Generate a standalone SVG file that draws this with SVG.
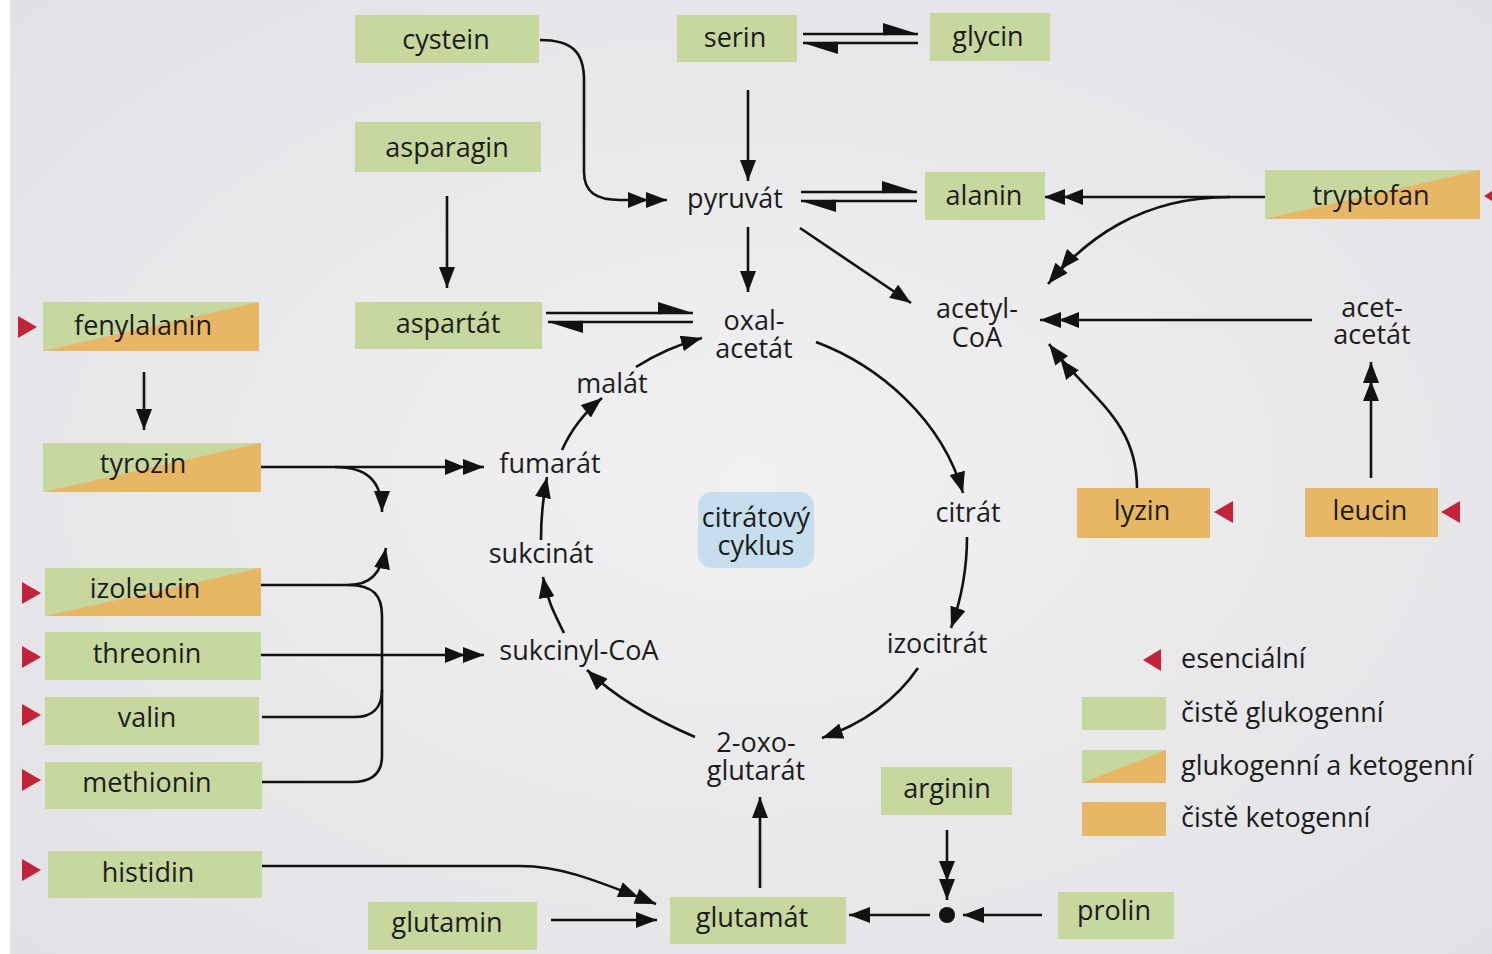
<svg xmlns="http://www.w3.org/2000/svg" width="1492" height="954" viewBox="0 0 1492 954">
<defs>
<style>
.t{font-family:"Open Sans","Noto Sans","Liberation Sans",sans-serif;font-size:27px;fill:#1c1c1c;text-anchor:middle}
.ts{font-family:"Open Sans","Noto Sans","Liberation Sans",sans-serif;font-size:27px;fill:#1c1c1c;text-anchor:start}
.g{fill:#c7d89f}
.o{fill:#e8b765}
.ess{fill:#c2233a}
.c{fill:none;stroke:#121212;stroke-width:2.6}
</style>
<radialGradient id="bg" cx="0.5" cy="0.5" r="0.75">
<stop offset="0" stop-color="#f1f0f2"/>
<stop offset="1" stop-color="#e1e0e4"/>
</radialGradient>
<marker id="a1" markerUnits="userSpaceOnUse" markerWidth="22" markerHeight="16" refX="21" refY="8" orient="auto">
<path d="M0,0 L21,8 L0,16 z" fill="#121212"/>
</marker>
<marker id="a2" markerUnits="userSpaceOnUse" markerWidth="40" markerHeight="16" refX="39" refY="8" orient="auto">
<path d="M0,0 L20,8 L0,16 z M18,0 L39,8 L18,16 z" fill="#121212"/>
</marker>
<marker id="hp" markerUnits="userSpaceOnUse" markerWidth="36" markerHeight="14" refX="35" refY="11" orient="auto">
<path d="M0,0 L35,11 L0,12.3 z" fill="#121212"/>
</marker>
</defs>
<rect x="0" y="0" width="1492" height="954" fill="#ffffff"/>
<rect x="10" y="0" width="1482" height="954" fill="url(#bg)"/>

<g id="connectors">
<path class="c" d="M540,40 C572,40 584,52 584,80 L584,172 C584,192 596,200 620,200 L667,200" marker-end="url(#a2)"/>
<path class="c" d="M748,90 L748,181" marker-end="url(#a1)"/>
<path class="c" d="M748,227 L748,292" marker-end="url(#a1)"/>
<path class="c" d="M803,34 L918,34" marker-end="url(#hp)"/>
<path class="c" d="M918,43 L803,43" marker-end="url(#hp)"/>
<path class="c" d="M801,192 L917,192" marker-end="url(#hp)"/>
<path class="c" d="M917,201 L801,201" marker-end="url(#hp)"/>
<path class="c" d="M546,313 L693,313" marker-end="url(#hp)"/>
<path class="c" d="M693,322 L548,322" marker-end="url(#hp)"/>
<path class="c" d="M800,228 L911,303" marker-end="url(#a1)"/>
<path class="c" d="M1265,197 L1044,197" marker-end="url(#a2)"/>
<path class="c" d="M1230,197 C1140,197 1085,240 1048,284" marker-end="url(#a2)"/>
<path class="c" d="M1312,320 L1040,320" marker-end="url(#a2)"/>
<path class="c" d="M1137,488 C1137,420 1090,398 1049,344" marker-end="url(#a2)"/>
<path class="c" d="M1371,478 L1371,362" marker-end="url(#a2)"/>
<path class="c" d="M447,196 L447,288" marker-end="url(#a1)"/>
<path class="c" d="M144,372 L144,430" marker-end="url(#a1)"/>
<path class="c" d="M816,342 C880,366 942,420 963,493" marker-end="url(#a1)"/>
<path class="c" d="M967,537 C967,572 961,600 951,628" marker-end="url(#a1)"/>
<path class="c" d="M918,668 C896,700 862,724 822,738" marker-end="url(#a1)"/>
<path class="c" d="M695,737 C660,722 618,700 587,670" marker-end="url(#a1)"/>
<path class="c" d="M564,633 C555,615 547,600 543,577" marker-end="url(#a1)"/>
<path class="c" d="M541,540 C541,515 543,497 547,477" marker-end="url(#a1)"/>
<path class="c" d="M562,450 C571,430 585,412 602,398" marker-end="url(#a1)"/>
<path class="c" d="M636,367 C655,355 676,345 702,338" marker-end="url(#a1)"/>
<path class="c" d="M260,467 L484,467" marker-end="url(#a2)"/>
<path class="c" d="M335,467 C366,467 382,480 382,512" marker-end="url(#a1)"/>
<path class="c" d="M260,585 L348,585"/>
<path class="c" d="M348,585 C370,585 381,574 386,548" marker-end="url(#a1)"/>
<path class="c" d="M348,585 C374,585 382,596 382,616 L382,756 C382,773 372,782 352,782 L262,782"/>
<path class="c" d="M262,717 L355,717 C372,717 382,708 382,690"/>
<path class="c" d="M260,655 L484,655" marker-end="url(#a2)"/>
<path class="c" d="M262,866 L520,866 C558,866 588,877 656,904" marker-end="url(#a2)"/>
<path class="c" d="M551,920 L657,920" marker-end="url(#a1)"/>
<path class="c" d="M760,888 L760,797" marker-end="url(#a1)"/>
<path class="c" d="M947,830 L947,900" marker-end="url(#a2)"/>
<path class="c" d="M1042,915 L963,915" marker-end="url(#a1)"/>
<path class="c" d="M930,915 L849,915" marker-end="url(#a1)"/>
<circle cx="947" cy="915" r="8" fill="#121212"/>
</g>

<g id="cystein"><rect class="g" x="355" y="15" width="184" height="48"/><text class="t" x="446" y="49">cystein</text></g>
<g id="serin"><rect class="g" x="677" y="15" width="120" height="47"/><text class="t" x="735" y="47">serin</text></g>
<g id="glycin"><rect class="g" x="930" y="13" width="120" height="48"/><text class="t" x="988" y="46">glycin</text></g>
<g id="asparagin"><rect class="g" x="355" y="122" width="186" height="50"/><text class="t" x="447" y="157">asparagin</text></g>
<g id="pyruvat"><text class="t" x="735" y="208">pyruvát</text></g>
<g id="alanin"><rect class="g" x="925" y="172" width="120" height="48"/><text class="t" x="984" y="205">alanin</text></g>
<g id="tryptofan"><rect class="g" x="1265" y="170" width="215" height="49"/><polygon class="o" points="1265,219 1480,170 1480,219"/><text class="t" x="1371" y="205">tryptofan</text><polygon class="ess" points="1484,196 1502,185 1502,207"/></g>
<g id="fenylalanin"><rect class="g" x="43" y="302" width="216" height="49"/><polygon class="o" points="43,351 259,302 259,351"/><text class="t" x="143" y="335">fenylalanin</text><polygon class="ess" points="18,316 37,327 18,338"/></g>
<g id="aspartat"><rect class="g" x="355" y="302" width="187" height="47"/><text class="t" x="448" y="333">aspartát</text></g>
<g id="oxalacetat"><text class="t" x="754" y="330">oxal-</text><text class="t" x="754" y="358">acetát</text></g>
<g id="acetylcoa"><text class="t" x="977" y="318">acetyl-</text><text class="t" x="977" y="347">CoA</text></g>
<g id="acetacetat"><text class="t" x="1372" y="317">acet-</text><text class="t" x="1372" y="344">acetát</text></g>
<g id="malat"><text class="t" x="612" y="393">malát</text></g>
<g id="fumarat"><text class="t" x="550" y="473">fumarát</text></g>
<g id="tyrozin"><rect class="g" x="43" y="443" width="218" height="49"/><polygon class="o" points="43,492 261,443 261,492"/><text class="t" x="143" y="473">tyrozin</text></g>
<g id="cyklus"><rect x="698" y="492" width="116" height="76" rx="14" fill="#c6deee"/><text class="t" x="756" y="527">citrátový</text><text class="t" x="756" y="555">cyklus</text></g>
<g id="citrat"><text class="t" x="968" y="522">citrát</text></g>
<g id="lyzin"><rect class="o" x="1077" y="488" width="133" height="50"/><text class="t" x="1142" y="520">lyzin</text><polygon class="ess" points="1214,512 1233,501 1233,523"/></g>
<g id="leucin"><rect class="o" x="1305" y="488" width="133" height="49"/><text class="t" x="1370" y="520">leucin</text><polygon class="ess" points="1441,512 1460,501 1460,523"/></g>
<g id="sukcinat"><text class="t" x="541" y="563">sukcinát</text></g>
<g id="izoleucin"><rect class="g" x="45" y="568" width="216" height="48"/><polygon class="o" points="45,616 261,568 261,616"/><text class="t" x="145" y="598">izoleucin</text><polygon class="ess" points="22,582 41,593 22,604"/></g>
<g id="threonin"><rect class="g" x="45" y="632" width="216" height="48"/><text class="t" x="147" y="663">threonin</text><polygon class="ess" points="22,646 41,657 22,668"/></g>
<g id="sukcinylcoa"><text class="t" x="579" y="660">sukcinyl-CoA</text></g>
<g id="izocitrat"><text class="t" x="937" y="653">izocitrát</text></g>
<g id="valin"><rect class="g" x="45" y="697" width="214" height="48"/><text class="t" x="147" y="727">valin</text><polygon class="ess" points="22,704 41,715 22,726"/></g>
<g id="methionin"><rect class="g" x="45" y="762" width="217" height="47"/><text class="t" x="147" y="792">methionin</text><polygon class="ess" points="22,769 41,780 22,791"/></g>
<g id="oxoglutarat"><text class="t" x="756" y="752">2-oxo-</text><text class="t" x="756" y="780">glutarát</text></g>
<g id="arginin"><rect class="g" x="881" y="767" width="131" height="48"/><text class="t" x="947" y="798">arginin</text></g>
<g id="histidin"><rect class="g" x="48" y="851" width="214" height="47"/><text class="t" x="148" y="882">histidin</text><polygon class="ess" points="22,859 41,870 22,881"/></g>
<g id="glutamin"><rect class="g" x="368" y="902" width="169" height="48"/><text class="t" x="447" y="932">glutamin</text></g>
<g id="glutamat"><rect class="g" x="670" y="897" width="176" height="47"/><text class="t" x="752" y="927">glutamát</text></g>
<g id="prolin"><rect class="g" x="1058" y="892" width="116" height="47"/><text class="t" x="1114" y="920">prolin</text></g>

<g id="legend">
<polygon class="ess" points="1143,660 1161,649 1161,671"/>
<text class="ts" x="1181" y="668">esenciální</text>
<rect class="g" x="1082" y="697" width="84" height="33"/>
<text class="ts" x="1181" y="722">čistě glukogenní</text>
<rect class="g" x="1082" y="750" width="84" height="33"/>
<polygon class="o" points="1082,783 1166,750 1166,783"/>
<text class="ts" x="1181" y="775">glukogenní a ketogenní</text>
<rect class="o" x="1082" y="802" width="84" height="34"/>
<text class="ts" x="1181" y="827">čistě ketogenní</text>
</g>
</svg>
